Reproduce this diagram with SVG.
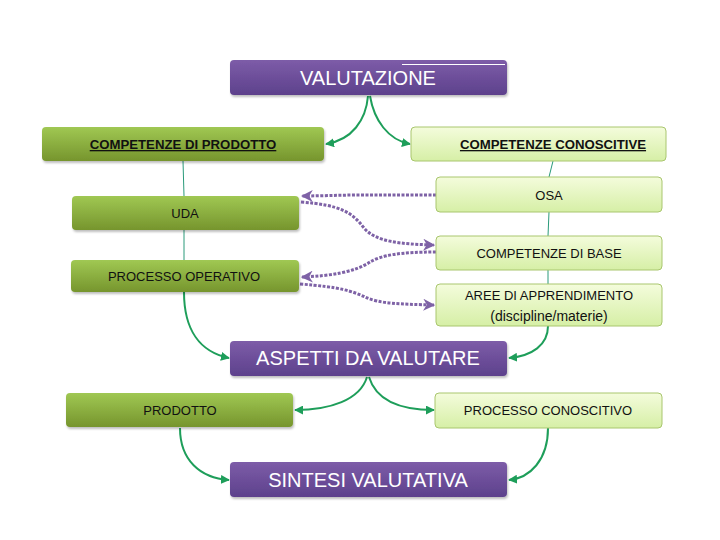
<svg xmlns="http://www.w3.org/2000/svg" width="720" height="540" viewBox="0 0 720 540">
<defs>
<linearGradient id="gPurple" x1="0" y1="0" x2="0" y2="1"><stop offset="0" stop-color="#7d5ca8"/><stop offset="1" stop-color="#5d418c"/></linearGradient>
<linearGradient id="gDark" x1="0" y1="0" x2="0" y2="1"><stop offset="0" stop-color="#a0c853"/><stop offset="1" stop-color="#76952d"/></linearGradient>
<linearGradient id="gLight" x1="0" y1="0" x2="0" y2="1"><stop offset="0" stop-color="#f4fcdc"/><stop offset="1" stop-color="#d6efa6"/></linearGradient>
<filter id="sh" x="-5%" y="-20%" width="110%" height="150%"><feDropShadow dx="1" dy="2" stdDeviation="1.2" flood-color="#000" flood-opacity="0.25"/></filter>
<marker id="ag" viewBox="0 0 10 10" refX="9" refY="5" markerWidth="9" markerHeight="9" markerUnits="userSpaceOnUse" orient="auto"><path d="M0,0 L10,5 L0,10 z" fill="#1e9e5a"/></marker>
<marker id="ap" viewBox="0 0 10 10" refX="9" refY="5" markerWidth="12" markerHeight="12" markerUnits="userSpaceOnUse" orient="auto"><path d="M0,0 L10,5 L0,10 L3,5 z" fill="#7e62a6"/></marker>
</defs>
<style>
.purple{fill:url(#gPurple);filter:url(#sh)}
.dark{fill:url(#gDark);filter:url(#sh)}
.light{fill:url(#gLight);stroke:#a9c66e;stroke-width:1}
.tw{font-family:"Liberation Sans",Arial,sans-serif;font-size:20px;fill:#fff;text-anchor:middle}
.tb{font-family:"Liberation Sans",Arial,sans-serif;font-size:13px;fill:#111;text-anchor:middle}
.tu{font-family:"Liberation Sans",Arial,sans-serif;font-size:13.2px;font-weight:bold;fill:#111;text-anchor:middle;text-decoration:underline}
.cg{fill:none;stroke:#1e9e5a;stroke-width:2}
.ct{fill:none;stroke:#2a9a7a;stroke-width:1}
.cp{fill:none;stroke:#7e62a6;stroke-width:3;stroke-dasharray:3 1.5}
</style>
<g id="connectors">
<path class="cg" d="M368,96 C366,120 352,140 326,144" marker-end="url(#ag)"/>
<path class="cg" d="M370,96 C374,120 388,140 410,144" marker-end="url(#ag)"/>
<path class="ct" d="M183,161 L184,196"/>
<path class="ct" d="M184,230 L184,260"/>
<path class="cg" d="M184,292 C184,330 200,352 229,358" marker-end="url(#ag)"/>
<path class="ct" d="M553,161 L549,177"/>
<path class="ct" d="M549,212 L548,236"/>
<path class="ct" d="M548,270 L548,284"/>
<path class="cg" d="M548,326 C548,345 532,356 509,358" marker-end="url(#ag)"/>
<path class="cg" d="M367,377 C360,400 330,410 295,410" marker-end="url(#ag)"/>
<path class="cg" d="M369,377 C376,400 400,410 434,410" marker-end="url(#ag)"/>
<path class="cg" d="M180,428 C180,460 200,478 229,480" marker-end="url(#ag)"/>
<path class="cg" d="M548,428 C548,460 530,478 509,480" marker-end="url(#ag)"/>
<path class="cp" d="M436,195 L360,195 C340,195 320,196 302,196" marker-end="url(#ap)"/>
<path class="cp" d="M301,202 C340,205 352,212 364,228 C376,242 400,244 434,245" marker-end="url(#ap)"/>
<path class="cp" d="M436,252 C400,252 382,255 370,262 C355,272 330,276 302,277" marker-end="url(#ap)"/>
<path class="cp" d="M300,284 C340,287 352,291 365,297 C380,304 400,304 434,305" marker-end="url(#ap)"/>
</g>
<g id="valutazione"><rect class="purple" x="230" y="60" width="277" height="35" rx="4"/><line x1="402" y1="64.5" x2="505" y2="64.5" stroke="#fff" stroke-width="1"/><text class="tw" x="368" y="85">VALUTAZIONE</text></g>
<g id="comp-prodotto"><rect class="dark" x="42" y="127" width="282" height="34" rx="4"/><text class="tu" x="183" y="149">COMPETENZE DI PRODOTTO</text></g>
<g id="comp-conoscitive"><rect class="light" x="411" y="127" width="255" height="34" rx="4"/><text class="tu" x="553" y="149">COMPETENZE CONOSCITIVE</text></g>
<g id="osa"><rect class="light" x="436" y="177" width="226" height="35" rx="4"/><text class="tb" x="549" y="200">OSA</text></g>
<g id="uda"><rect class="dark" x="72" y="196" width="227" height="34" rx="4"/><text class="tb" x="185" y="218">UDA</text></g>
<g id="comp-base"><rect class="light" x="436" y="236" width="226" height="34" rx="4"/><text class="tb" x="549" y="258">COMPETENZE DI BASE</text></g>
<g id="processo-operativo"><rect class="dark" x="71" y="260" width="228" height="32" rx="4"/><text class="tb" x="184" y="281">PROCESSO OPERATIVO</text></g>
<g id="aree"><rect class="light" x="436" y="284" width="226" height="42" rx="4"/><text class="tb" x="549" y="300">AREE DI APPRENDIMENTO</text><text class="tb" x="549" y="321" style="font-size:14px">(discipline/materie)</text></g>
<g id="aspetti"><rect class="purple" x="230" y="341" width="277" height="35" rx="4"/><text class="tw" x="368" y="365">ASPETTI DA VALUTARE</text></g>
<g id="prodotto"><rect class="dark" x="66" y="393" width="227" height="34" rx="4"/><text class="tb" x="180" y="415">PRODOTTO</text></g>
<g id="processo-conoscitivo"><rect class="light" x="435" y="393" width="227" height="35" rx="4"/><text class="tb" x="548" y="415">PROCESSO CONOSCITIVO</text></g>
<g id="sintesi"><rect class="purple" x="230" y="462" width="277" height="35" rx="4"/><text class="tw" x="368" y="487">SINTESI VALUTATIVA</text></g>
</svg>
